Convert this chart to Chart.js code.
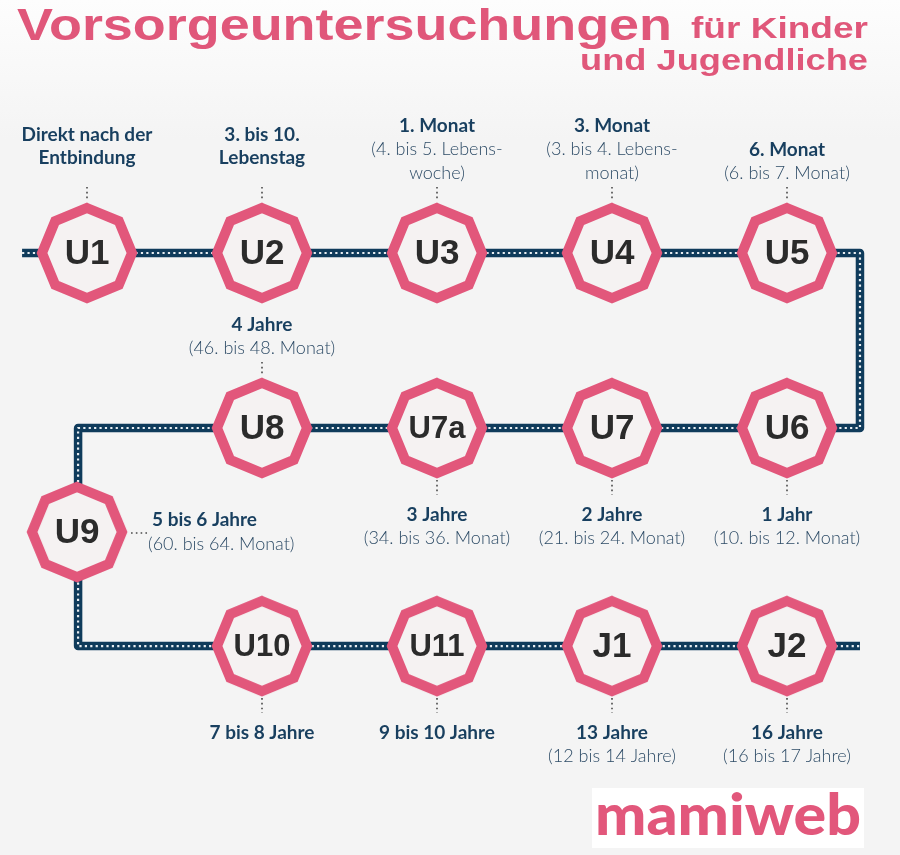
<!DOCTYPE html>
<html><head><meta charset="utf-8">
<script src="https://cdn.jsdelivr.net/npm/chart.js@4.4.1/dist/chart.umd.min.js"></script>
<style>html,body{margin:0;padding:0;background:#f4f4f4;}#wrap{width:900px;height:855px;position:relative;}</style>
</head><body><div id="wrap"><canvas id="c" width="900" height="855"></canvas></div>
<script>
// ---- data ----
const titleMain = 'Vorsorgeuntersuchungen';
const titleSub1 = 'für Kinder';
const titleSub2 = 'und Jugendliche';
const brandName = 'mamiweb';
const stationNames = ['U1','U2','U3','U4','U5','U6','U7','U7a','U8','U9','U10','U11','J1','J2'];
const stationColumn = [0,1,2,3,4,4,3,2,1,-0.057,1,2,3,4];
const stationRow = [0,0,0,0,0,1,1,1,1,1.594,2.246,2.246,2.246,2.246];
const timeMain = [['Direkt nach der','Entbindung'],['3. bis 10.','Lebenstag'],['1. Monat'],['3. Monat'],['6. Monat'],['1 Jahr'],['2 Jahre'],['3 Jahre'],['4 Jahre'],['5 bis 6 Jahre'],['7 bis 8 Jahre'],['9 bis 10 Jahre'],['13 Jahre'],['16 Jahre']];
const timeDetail = [[],[],['(4. bis 5. Lebens-','woche)'],['(3. bis 4. Lebens-','monat)'],['(6. bis 7. Monat)'],['(10. bis 12. Monat)'],['(21. bis 24. Monat)'],['(34. bis 36. Monat)'],['(46. bis 48. Monat)'],['(60. bis 64. Monat)'],[],[],['(12 bis 14 Jahre)'],['(16 bis 17 Jahre)']];
const labelSide = ['above','above','above','above','above','below','below','below','above','right','below','below','below','below'];
const routeColumn = [-0.371, 4.417, 4.417, -0.051, -0.051, 4.417];
const routeRow = [0, 0, 1, 1, 2.246, 2.246];

// ---- styles ----
const PINK = '#e2577b', NAVY = '#0f3b5b', TXT = '#183f5f', LIGHT = '#2d4b66';

function octagonCanvas(){
  const c = document.createElement('canvas'); c.width = 104; c.height = 104;
  const g = c.getContext('2d'); const r = 45;
  g.beginPath();
  for (let k = 0; k < 8; k++){ const a = -Math.PI/2 + k*Math.PI/4; const px = 52 + r*Math.cos(a), py = 52 + r*Math.sin(a); k ? g.lineTo(px,py) : g.moveTo(px,py); }
  g.closePath(); g.fillStyle = '#f5f2f2'; g.fill(); g.lineWidth = 10; g.lineJoin = 'miter'; g.strokeStyle = PINK; g.stroke();
  return c;
}
const octa = octagonCanvas();

const stationPoints = stationNames.map((n,i)=>({x: stationColumn[i], y: stationRow[i]}));
const routePoints = routeColumn.map((x,i)=>({x, y: routeRow[i]}));

function dotted(ctx, x1, y1, x2, y2){
  ctx.save(); ctx.strokeStyle = '#4a4a4a'; ctx.lineWidth = 1.6; ctx.setLineDash([1.6,3.2]);
  ctx.beginPath(); ctx.moveTo(x1,y1); ctx.lineTo(x2,y2); ctx.stroke(); ctx.restore();
}
function fitText(ctx, text, x, y, font, w, align){
  ctx.save(); ctx.font = font; const m = ctx.measureText(text).width; const s = w / m;
  ctx.translate(x, y); ctx.scale(s, 1); ctx.textAlign = align; ctx.textBaseline = 'alphabetic'; ctx.fillText(text, 0, 0); ctx.restore();
}

const bgPlugin = {
  id: 'bg',
  beforeDraw(chart){
    const ctx = chart.ctx; const g = ctx.createLinearGradient(0,0,0,140);
    g.addColorStop(0,'#fdfdfd'); g.addColorStop(1,'#f4f4f4');
    ctx.save(); ctx.fillStyle = g; ctx.fillRect(0,0,chart.width,chart.height); ctx.restore();
  }
};

const labelPlugin = {
  id: 'labels',
  afterDatasetsDraw(chart){
    const ctx = chart.ctx; const meta = chart.getDatasetMeta(0);
    ctx.save();
    meta.data.forEach((pt, i) => {
      const x = pt.x, y = pt.y;
      const nm = stationNames[i];
      ctx.fillStyle = '#2b2b2b'; ctx.textAlign = 'center'; ctx.textBaseline = 'middle';
      ctx.font = 'bold ' + (nm.length > 2 ? 31 : 35) + 'px "Liberation Sans", Arial, sans-serif';
      ctx.fillText(nm, x, y + 1);
      const lines = timeMain[i].map(t=>({t, b:true})).concat(timeDetail[i].map(t=>({t, b:false})));
      const side = labelSide[i];
      const setFont = (b)=>{ ctx.font = b ? 'bold 19px Lato, sans-serif' : '300 18px Lato, sans-serif'; ctx.fillStyle = b ? TXT : LIGHT; };
      if (side === 'above'){
        dotted(ctx, x, y - 66, x, y - 52);
        const last = lines[lines.length-1];
        let cy = y - (last.b ? 95 : 80);
        ctx.textAlign = 'center'; ctx.textBaseline = 'middle';
        for (let k = lines.length-1; k >= 0; k--){ setFont(lines[k].b); ctx.fillText(lines[k].t, x, cy); cy -= 23.5; }
      } else if (side === 'below'){
        dotted(ctx, x, y + 52, x, y + 67);
        let cy = y + 86.5;
        ctx.textAlign = 'center'; ctx.textBaseline = 'middle';
        lines.forEach(l => { setFont(l.b); ctx.fillText(l.t, x, cy); cy += 23.5; });
      } else {
        dotted(ctx, x + 54, y + 1, x + 70, y + 1);
        ctx.textAlign = 'left'; ctx.textBaseline = 'middle';
        setFont(true); ctx.fillText(lines[0].t, x + 75, y - 12);
        setFont(false); ctx.fillText(lines[1].t, x + 71, y + 12);
      }
    });
    ctx.restore();
  },
  afterDraw(chart){
    const ctx = chart.ctx;
    ctx.save(); ctx.fillStyle = '#e0577a';
    fitText(ctx, titleMain, 17, 40, 'bold 44px "Liberation Sans", Arial, sans-serif', 655, 'left');
    fitText(ctx, titleSub1, 868, 38, 'bold 30px "Liberation Sans", Arial, sans-serif', 177, 'right');
    fitText(ctx, titleSub2, 868, 70, 'bold 30px "Liberation Sans", Arial, sans-serif', 288, 'right');
    ctx.fillStyle = '#ffffff'; ctx.fillRect(592, 788, 272, 60);
    ctx.fillStyle = '#e2577b';
    fitText(ctx, brandName, 595, 835, '900 58px Lato, sans-serif', 266, 'left');
    ctx.restore();
  }
};

new Chart(document.getElementById('c'), {
  type: 'scatter',
  data: {
    datasets: [
      { label: 'Untersuchungen', data: stationPoints, pointStyle: octa, pointRadius: 50, showLine: false },
      { label: 'route-dots', data: routePoints, showLine: true, borderColor: '#e9eef2', borderWidth: 2.2, borderDash: [2.2, 3.2], pointRadius: 0, borderJoinStyle: 'round', fill: false },
      { label: 'route', data: routePoints, showLine: true, borderColor: NAVY, borderWidth: 8.5, pointRadius: 0, borderJoinStyle: 'round', borderCapStyle: 'butt', fill: false }
    ]
  },
  options: {
    responsive: false, animation: false, devicePixelRatio: 1, events: [],
    layout: { padding: 0, autoPadding: false },
    plugins: { legend: { display: false }, tooltip: { enabled: false }, title: { display: false } },
    scales: {
      x: { type: 'linear', display: false, min: -87/175, max: 813/175 },
      y: { type: 'linear', display: false, reverse: true, min: -253/175, max: 602/175 }
    }
  },
  plugins: [bgPlugin, labelPlugin]
});
</script>
</body></html>
